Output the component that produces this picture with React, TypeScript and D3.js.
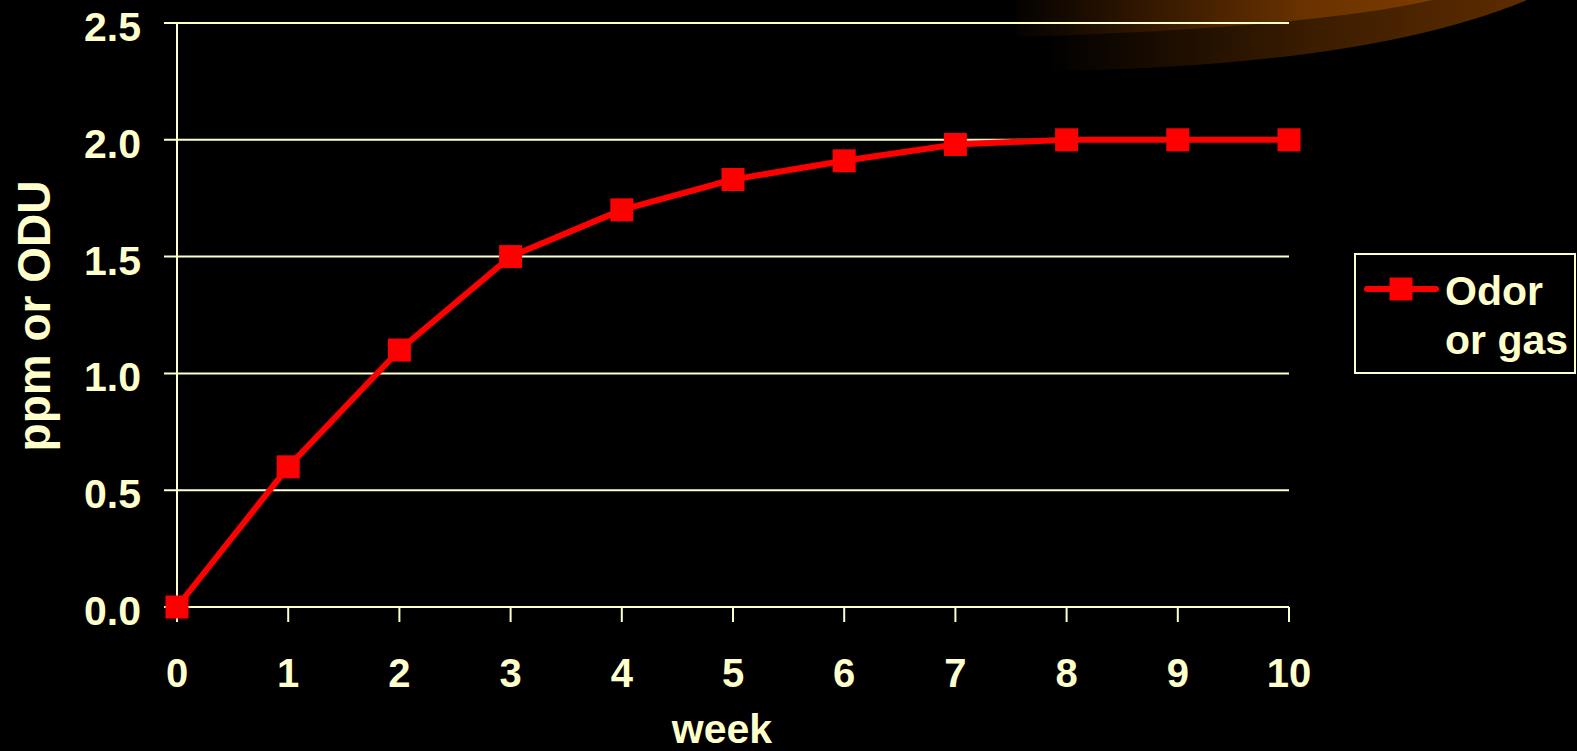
import React from "react";
import * as d3 from "d3";

const weeks: number[] = [0, 1, 2, 3, 4, 5, 6, 7, 8, 9, 10];
const odorValues: number[] = [0.0, 0.6, 1.1, 1.5, 1.7, 1.83, 1.91, 1.98, 2.0, 2.0, 2.0];
const yTicks: number[] = [0, 0.5, 1.0, 1.5, 2.0, 2.5];
const seriesName: string[] = ["Odor", "or gas"];
const xTitle = "week";
const yTitle = "ppm or ODU";

const W = 1577;
const H = 751;
const FG = "#FFFFCC";
const RED = "#FF0000";
const FONT = "'Liberation Sans', Arial, Helvetica, sans-serif";

export default function App() {
  const x = d3.scaleLinear().domain([0, 10]).range([177, 1289]);
  const y = d3.scaleLinear().domain([0, 2.5]).range([607, 23]);
  const line = d3
    .line<number>()
    .x((_, i) => x(weeks[i]))
    .y((d) => y(d));
  const ms = 23;

  return (
    <svg
      width={W}
      height={H}
      style={{ position: "fixed", left: 0, top: 0, display: "block", background: "#000" }}
    >
      <defs>
        <linearGradient id="gOuter" x1="1045" y1="0" x2="1525" y2="0" gradientUnits="userSpaceOnUse">
          <stop offset="0" stopColor="#000000" />
          <stop offset="0.55" stopColor="#3a1c00" />
          <stop offset="1" stopColor="#5e2c00" />
        </linearGradient>
        <linearGradient id="gInner" x1="1005" y1="0" x2="1435" y2="0" gradientUnits="userSpaceOnUse">
          <stop offset="0" stopColor="#000000" />
          <stop offset="0.7" stopColor="#6a3200" />
          <stop offset="1" stopColor="#7c3c00" />
        </linearGradient>
      </defs>
      <rect x={0} y={0} width={W} height={H} fill="#000" />
      {/* decorative swoosh */}
      <path d="M1051,0 L1051,71 Q1368,66 1527,0 Z" fill="url(#gOuter)" />
      <path d="M1016,0 L1016,37 Q1308,28 1433,0 Z" fill="url(#gInner)" />

      {/* gridlines */}
      {yTicks.map((t) => (
        <line key={"g" + t} x1={164} x2={x(10)} y1={y(t)} y2={y(t)} stroke={FG} strokeWidth={2} />
      ))}
      {/* y axis */}
      <line x1={x(0)} x2={x(0)} y1={y(2.5)} y2={y(0) + 15} stroke={FG} strokeWidth={2} />
      {/* x ticks */}
      {weeks.map((w) => (
        <line key={"t" + w} x1={x(w)} x2={x(w)} y1={y(0)} y2={y(0) + 15} stroke={FG} strokeWidth={2} />
      ))}
      {/* y tick labels */}
      {yTicks.map((t) => (
        <text
          key={"yl" + t}
          x={141}
          y={y(t) + 18}
          textAnchor="end"
          fill={FG}
          fontFamily={FONT}
          fontWeight="bold"
          fontSize={41}
        >
          {t.toFixed(1)}
        </text>
      ))}
      {/* x tick labels */}
      {weeks.map((w) => (
        <text
          key={"xl" + w}
          x={x(w)}
          y={687}
          textAnchor="middle"
          fill={FG}
          fontFamily={FONT}
          fontWeight="bold"
          fontSize={40}
        >
          {w}
        </text>
      ))}
      {/* axis titles */}
      <text x={722} y={743} textAnchor="middle" fill={FG} fontFamily={FONT} fontWeight="bold" fontSize={41}>
        {xTitle}
      </text>
      <text
        transform={`translate(50,316) rotate(-90)`}
        textAnchor="middle"
        fill={FG}
        fontFamily={FONT}
        fontWeight="bold"
        fontSize={46}
      >
        {yTitle}
      </text>

      {/* series */}
      <path d={line(odorValues) || ""} fill="none" stroke={RED} strokeWidth={6} strokeLinejoin="round" />
      {odorValues.map((v, i) => (
        <rect key={"m" + i} x={x(weeks[i]) - ms / 2} y={y(v) - ms / 2} width={ms} height={ms} fill={RED} />
      ))}

      {/* legend */}
      <rect x={1355} y={254} width={220} height={119} fill="#000" stroke={FG} strokeWidth={2} />
      <line x1={1367} x2={1436} y1={289} y2={289} stroke={RED} strokeWidth={6} strokeLinecap="round" />
      <rect x={1401 - ms / 2} y={289 - ms / 2} width={ms} height={ms} fill={RED} />
      <text x={1445} y={305} fill={FG} fontFamily={FONT} fontWeight="bold" fontSize={41}>
        {seriesName[0]}
      </text>
      <text x={1445} y={354} fill={FG} fontFamily={FONT} fontWeight="bold" fontSize={41}>
        {seriesName[1]}
      </text>
    </svg>
  );
}
